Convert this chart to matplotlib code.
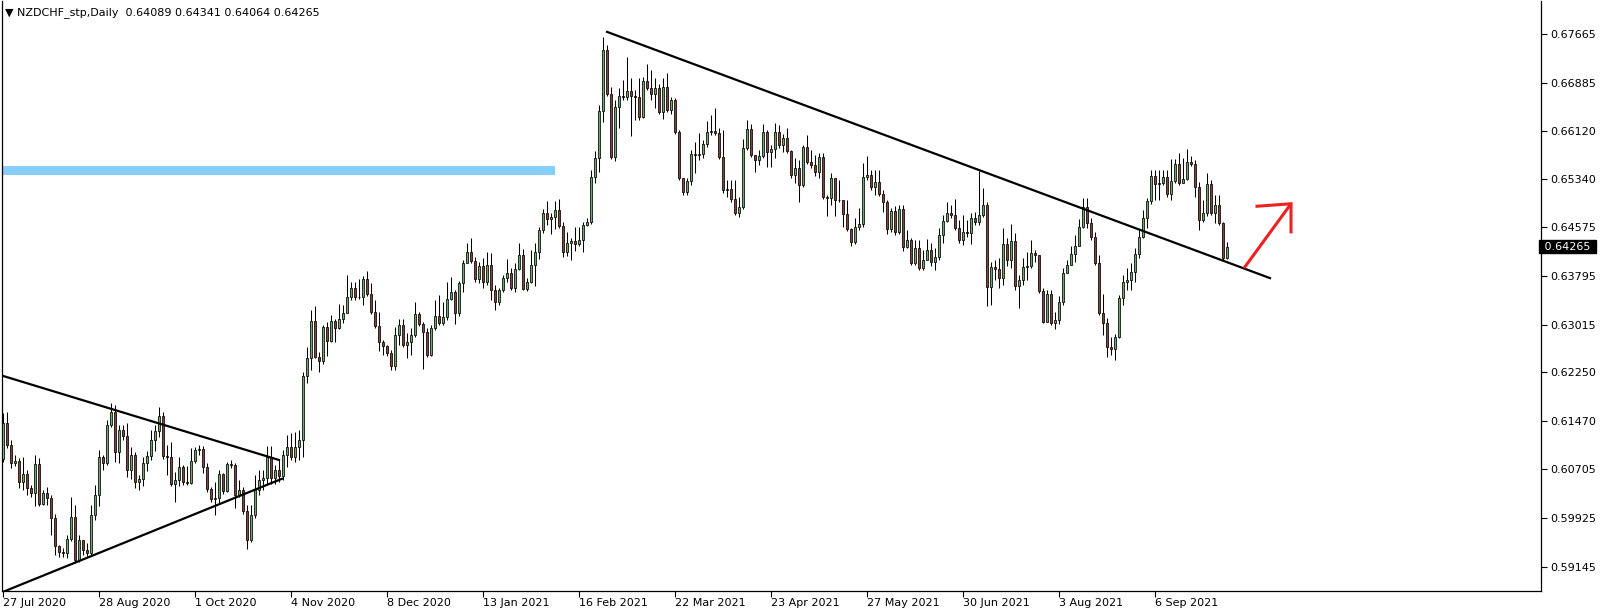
import numpy as np
import matplotlib
matplotlib.use("Agg")
import matplotlib.pyplot as plt
from matplotlib.patches import Rectangle
import matplotlib.transforms as mtransforms

# NZDCHF daily candles, prices in pips (1e-4). open of each bar = previous close
first_open = 6087
close_pips = [
    6144, 6109, 6080, 6083, 6050, 6063, 6040, 6032, 6079, 6015,
    6032, 6024, 5992, 5947, 5938, 5936, 5959, 5994, 5925, 5957,
    5941, 5936, 5997, 6029, 6090, 6080, 6141, 6162, 6098, 6133,
    6123, 6069, 6093, 6050, 6055, 6080, 6091, 6117, 6131, 6155,
    6091, 6090, 6047, 6053, 6074, 6050, 6048, 6083, 6101, 6103,
    6074, 6039, 6023, 6024, 6063, 6035, 6079, 6077, 6029, 6037,
    6003, 5957, 5997, 6037, 6053, 6056, 6090, 6056, 6069, 6059,
    6093, 6106, 6090, 6106, 6117, 6219, 6248, 6307, 6250, 6243,
    6298, 6275, 6307, 6296, 6311, 6320, 6346, 6360, 6346, 6346,
    6375, 6351, 6322, 6299, 6274, 6267, 6256, 6235, 6285, 6301,
    6269, 6274, 6285, 6319, 6303, 6290, 6253, 6296, 6315, 6304,
    6314, 6343, 6354, 6320, 6368, 6400, 6418, 6403, 6375, 6395,
    6370, 6397, 6357, 6338, 6357, 6376, 6384, 6360, 6391, 6413,
    6359, 6370, 6397, 6418, 6453, 6480, 6471, 6474, 6485, 6459,
    6418, 6432, 6435, 6431, 6437, 6461, 6466, 6538, 6568, 6643,
    6741, 6671, 6570, 6650, 6667, 6666, 6675, 6667, 6666, 6634,
    6691, 6680, 6671, 6680, 6642, 6682, 6645, 6661, 6610, 6536,
    6514, 6531, 6575, 6573, 6575, 6591, 6610, 6611, 6608, 6570,
    6517, 6519, 6503, 6480, 6490, 6584, 6615, 6573, 6565, 6571,
    6610, 6578, 6583, 6610, 6589, 6600, 6579, 6541, 6552, 6525,
    6586, 6562, 6557, 6546, 6570, 6506, 6504, 6536, 6501, 6501,
    6479, 6455, 6434, 6458, 6463, 6538, 6541, 6522, 6530, 6511,
    6498, 6455, 6483, 6450, 6487, 6426, 6437, 6400, 6424, 6392,
    6405, 6421, 6402, 6410, 6445, 6467, 6480, 6477, 6456, 6437,
    6450, 6448, 6472, 6466, 6477, 6493, 6362, 6394, 6391, 6376,
    6431, 6405, 6435, 6363, 6373, 6394, 6395, 6416, 6413, 6355,
    6306, 6351, 6304, 6309, 6338, 6384, 6397, 6415, 6427, 6458,
    6490, 6464, 6442, 6400, 6320, 6304, 6266, 6263, 6282, 6344,
    6370, 6373, 6386, 6415, 6442, 6472, 6499, 6539, 6527, 6528,
    6538, 6511, 6531, 6559, 6528, 6535, 6562, 6559, 6522, 6469,
    6480, 6527, 6480, 6493, 6464, 6408.9, 6426.5,
]
high_pips = [
    6160, 6162, 6117, 6093, 6088, 6090, 6069, 6045, 6093, 6088,
    6037, 6042, 6029, 5998, 5949, 5944, 5965, 6026, 6013, 5965,
    5957, 5952, 6013, 6045, 6101, 6093, 6149, 6176, 6173, 6141,
    6141, 6144, 6106, 6098, 6061, 6090, 6099, 6133, 6141, 6170,
    6162, 6109, 6114, 6066, 6090, 6077, 6075, 6104, 6106, 6109,
    6108, 6080, 6042, 6050, 6069, 6064, 6082, 6085, 6080, 6053,
    6042, 6013, 6013, 6061, 6069, 6069, 6107, 6107, 6077, 6085,
    6101, 6125, 6128, 6130, 6133, 6226, 6266, 6325, 6331, 6258,
    6301, 6306, 6317, 6311, 6335, 6333, 6381, 6370, 6370, 6375,
    6379, 6387, 6368, 6341, 6322, 6277, 6269, 6261, 6298, 6311,
    6311, 6288, 6296, 6338, 6322, 6306, 6296, 6301, 6341, 6349,
    6338, 6370, 6378, 6357, 6371, 6405, 6432, 6440, 6410, 6402,
    6408, 6418, 6416, 6365, 6360, 6381, 6407, 6392, 6400, 6432,
    6423, 6376, 6421, 6432, 6458, 6487, 6499, 6480, 6499, 6503,
    6466, 6450, 6440, 6458, 6458, 6466, 6472, 6549, 6579, 6653,
    6762, 6749, 6682, 6661, 6680, 6693, 6730, 6696, 6677, 6696,
    6698, 6719, 6709, 6696, 6687, 6696, 6704, 6666, 6664, 6613,
    6536, 6536, 6581, 6594, 6608, 6597, 6627, 6637, 6648, 6616,
    6613, 6533, 6533, 6533, 6506, 6599, 6629, 6623, 6573, 6581,
    6623, 6613, 6589, 6624, 6621, 6607, 6616, 6581, 6568, 6565,
    6589, 6605, 6581, 6573, 6576, 6576, 6509, 6544, 6536, 6533,
    6501, 6501, 6456, 6472, 6488, 6560, 6571, 6549, 6549, 6549,
    6517, 6501, 6488, 6491, 6493, 6493, 6453, 6440, 6437, 6437,
    6421, 6439, 6432, 6424, 6456, 6477, 6498, 6493, 6503, 6469,
    6477, 6469, 6480, 6482, 6547, 6520, 6498, 6402, 6405, 6408,
    6456, 6440, 6463, 6448, 6381, 6408, 6418, 6437, 6421, 6413,
    6360, 6357, 6357, 6322, 6347, 6392, 6405, 6427, 6445, 6471,
    6504, 6504, 6472, 6450, 6413, 6351, 6312, 6282, 6287, 6349,
    6381, 6392, 6400, 6424, 6455, 6485, 6504, 6549, 6549, 6549,
    6549, 6549, 6567, 6567, 6576, 6568, 6583, 6571, 6565, 6530,
    6501, 6544, 6533, 6509, 6509, 6466, 6434.1,
]
low_pips = [
    6082, 6104, 6072, 6075, 6040, 6037, 6029, 6026, 6011, 6011,
    6013, 6013, 5965, 5933, 5930, 5930, 5928, 5955, 5920, 5922,
    5933, 5931, 5931, 5989, 6011, 6069, 6077, 6138, 6082, 6080,
    6117, 6058, 6055, 6040, 6037, 6043, 6067, 6085, 6099, 6122,
    6087, 6061, 6043, 6018, 6043, 6045, 6045, 6047, 6080, 6093,
    6064, 6034, 6018, 5997, 6016, 6031, 6034, 6072, 6008, 6026,
    5999, 5943, 5954, 5992, 6029, 6037, 6045, 6047, 6047, 6050,
    6053, 6074, 6085, 6082, 6085, 6090, 6208, 6229, 6248, 6226,
    6239, 6251, 6274, 6274, 6295, 6304, 6320, 6341, 6341, 6343,
    6333, 6347, 6319, 6296, 6259, 6253, 6251, 6229, 6229, 6269,
    6266, 6248, 6253, 6282, 6299, 6231, 6250, 6251, 6293, 6301,
    6301, 6309, 6341, 6303, 6315, 6354, 6400, 6400, 6370, 6368,
    6360, 6365, 6341, 6325, 6333, 6354, 6370, 6357, 6354, 6389,
    6357, 6355, 6368, 6363, 6407, 6448, 6461, 6447, 6455, 6456,
    6410, 6411, 6405, 6419, 6427, 6418, 6459, 6463, 6528, 6546,
    6626, 6667, 6567, 6563, 6616, 6661, 6661, 6603, 6629, 6629,
    6632, 6677, 6661, 6648, 6639, 6631, 6642, 6639, 6607, 6533,
    6509, 6509, 6525, 6544, 6565, 6568, 6586, 6605, 6605, 6567,
    6512, 6506, 6498, 6477, 6474, 6487, 6581, 6570, 6546, 6557,
    6568, 6554, 6554, 6568, 6584, 6578, 6576, 6536, 6528, 6498,
    6522, 6559, 6552, 6539, 6536, 6502, 6475, 6493, 6475, 6498,
    6458, 6451, 6427, 6431, 6453, 6458, 6533, 6517, 6509, 6507,
    6482, 6447, 6450, 6445, 6447, 6419, 6424, 6397, 6397, 6389,
    6389, 6405, 6395, 6389, 6405, 6432, 6466, 6472, 6453, 6432,
    6429, 6442, 6431, 6461, 6461, 6474, 6331, 6333, 6373, 6360,
    6365, 6395, 6392, 6357, 6328, 6365, 6373, 6392, 6402, 6352,
    6304, 6306, 6301, 6295, 6303, 6333, 6384, 6397, 6402, 6427,
    6456, 6456, 6437, 6397, 6317, 6285, 6250, 6253, 6245, 6280,
    6333, 6357, 6357, 6370, 6408, 6440, 6456, 6495, 6501, 6501,
    6525, 6506, 6501, 6528, 6525, 6528, 6533, 6555, 6506, 6453,
    6466, 6475, 6477, 6464, 6461, 6405, 6406.4,
]

date_labels = ['27 Jul 2020', '28 Aug 2020', '1 Oct 2020', '4 Nov 2020', '8 Dec 2020',
               '13 Jan 2021', '16 Feb 2021', '22 Mar 2021', '23 Apr 2021', '27 May 2021',
               '30 Jun 2021', '3 Aug 2021', '6 Sep 2021']
bars_per_label = 24
price_ticks = [0.67665, 0.66885, 0.66120, 0.65340, 0.64575, 0.63795,
               0.63015, 0.62250, 0.61470, 0.60705, 0.59925, 0.59145]

# drawn objects: (bar index, price)
tri_upper = ([-0.75, 69.0], [0.6221, 0.6085])
tri_lower = ([0.0, 69.75], [0.5874, 0.6055])
down_trend = ([151.0, 316.75], [0.6770, 0.6376])
zone = (-1.0, 138.0, 0.6541, 0.6555)
arrow_shaft = ([310.25, 322.0], [0.6392, 0.6495])
arrow_head = ([313.5, 322.0, 322.0], [0.6491, 0.6495, 0.6450])
header = "\u25bc NZDCHF_stp,Daily  0.64089 0.64341 0.64064 0.64265"
last_price = 0.64265

closes = np.array(close_pips) / 1e4
highs = np.array(high_pips) / 1e4
lows = np.array(low_pips) / 1e4
opens = np.concatenate([[first_open / 1e4], closes[:-1]])
highs = np.maximum(highs, np.maximum(opens, closes))
lows = np.minimum(lows, np.minimum(opens, closes))
idx = np.arange(len(closes))

W, H = 1604, 613
fig = plt.figure(figsize=(W / 100, H / 100), dpi=100)
fig.patch.set_facecolor('white')
ax = fig.add_axes([2 / W, 22 / H, 1539 / W, 590 / H])
ax.set_xlim(-0.25, 384.5)
ax.set_ylim(0.58754, 0.68194)

# candles
ax.vlines(idx, lows, highs, color='black', linewidth=0.75, zorder=2)
up = closes >= opens
bottom = np.minimum(opens, closes)
height = np.maximum(np.abs(closes - opens), 0.00002)
ax.bar(idx[up], height[up], bottom=bottom[up], width=0.65, color='#2fd42f',
       edgecolor='black', linewidth=0.55, zorder=3)
ax.bar(idx[~up], height[~up], bottom=bottom[~up], width=0.65, color='#e01a1a',
       edgecolor='black', linewidth=0.55, zorder=3)

# zone and trend lines
ax.add_patch(Rectangle((zone[0], zone[2]), zone[1] - zone[0], zone[3] - zone[2],
                       facecolor='#87cefa', edgecolor='none', zorder=1))
for xs, ys in (tri_upper, tri_lower, down_trend):
    ax.plot(xs, ys, color='black', linewidth=1.6, zorder=4)
ax.plot(*arrow_shaft, color='#ee2020', linewidth=2.2, solid_capstyle='butt', zorder=4)
ax.plot(*arrow_head, color='#ee2020', linewidth=2.2, solid_joinstyle='miter', zorder=4)

# axes styling
ax.spines['top'].set_visible(False)
for side in ('left', 'right', 'bottom'):
    ax.spines[side].set_linewidth(0.9)
ax.yaxis.tick_right()
ax.set_yticks(price_ticks)
ax.set_yticklabels([f'{p:.5f}' for p in price_ticks])
ax.set_xticks(np.arange(len(date_labels)) * bars_per_label)
ax.set_xticklabels(date_labels)
for lbl in ax.get_xticklabels():
    lbl.set_ha('left')
ax.tick_params(axis='y', direction='out', length=4, width=0.8, pad=3, labelsize=8)
ax.tick_params(axis='x', direction='out', length=4, width=0.8, pad=1, labelsize=8)

# current price tag
trans = mtransforms.blended_transform_factory(ax.transAxes, ax.transData)
ax.text(1.0, last_price, ' 0.64265 ', transform=trans, ha='left', va='center',
        fontsize=8, color='white', zorder=6, clip_on=False,
        bbox=dict(boxstyle='square,pad=0.15', facecolor='black', edgecolor='black'))

fig.text(5 / W, 1 - 13 / H, header, ha='left', va='center', fontsize=8, color='black')

fig.savefig('out.png', dpi=100, facecolor='white')
